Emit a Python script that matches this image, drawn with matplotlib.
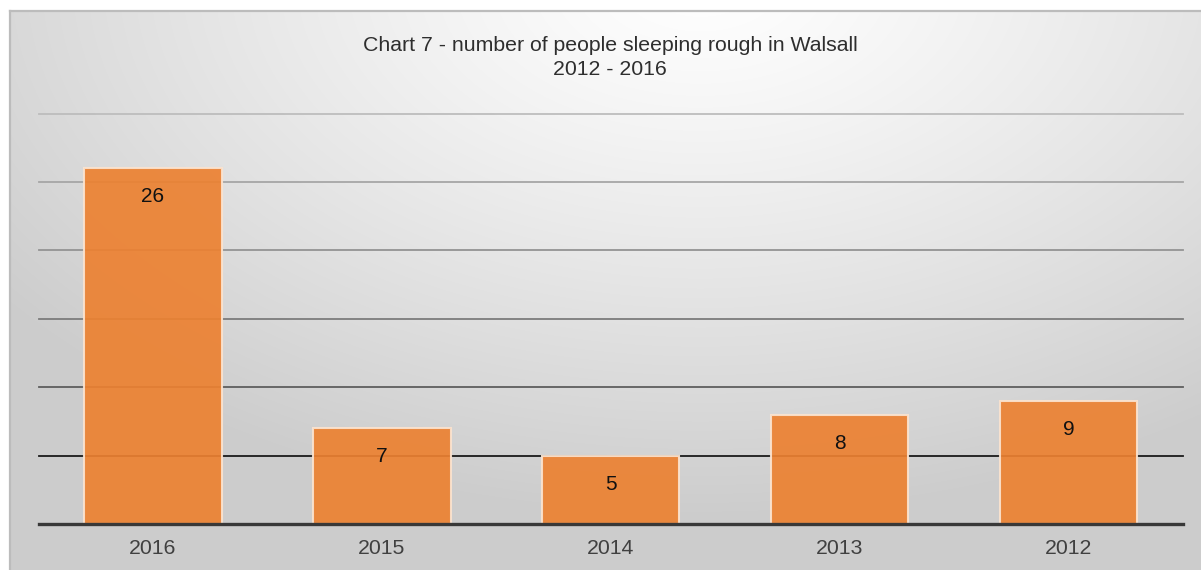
import numpy as np
import matplotlib.pyplot as plt

years = ['2016', '2015', '2014', '2013', '2012']
rough_sleepers = [26, 7, 5, 8, 9]
grid_levels = [5, 10, 15, 20, 25, 30]
grid_colours = ['#1a1a1a', '#5e5e5e', '#7c7c7c', '#939393', '#a6a6a6', '#bdbdbd']

W, H = 1201, 570
fig = plt.figure(figsize=(W / 100, H / 100), dpi=100)
fig.patch.set_facecolor('white')

# soft radial backdrop behind the chart area
bg = fig.add_axes([0, 0, 1, 1], zorder=-1)
yy, xx = np.mgrid[0:H, 0:W]
r = np.sqrt(((xx - 700) / 880.0) ** 2 + ((yy + 20) / 540.0) ** 2)
shade = 1.0 - 0.2 * np.clip(r, 0, 1) ** 1.2
img = np.dstack([shade, shade, shade])
img[:10, :] = 1.0
img[:, :9] = 1.0
bg.imshow(img, extent=[0, W, H, 0], aspect='auto', interpolation='bilinear')
bg.plot([9.5, 9.5], [H, 10.5], color='#bcbcbc', lw=1.6)
bg.plot([9.5, W], [10.5, 10.5], color='#bcbcbc', lw=1.6)
bg.set_xlim(0, W)
bg.set_ylim(H, 0)
bg.axis('off')

ax = fig.add_axes([38.5 / W, 1 - 524 / H, (1183 - 38.5) / W, (524 - 113.5) / H])
ax.set_facecolor('none')
x = np.arange(len(years))

for lvl, c in zip(grid_levels, grid_colours):
    ax.axhline(lvl, color=c, lw=1.3, zorder=1, clip_on=False)

bars = ax.bar(x, rough_sleepers, width=0.6, color='#ec8131', alpha=0.92,
              edgecolor='#fbe3cf', linewidth=1.5, zorder=2)
for b, v in zip(bars, rough_sleepers):
    ax.annotate(str(v), (b.get_x() + b.get_width() / 2, v), xytext=(0, -20.5),
                textcoords='offset points', ha='center', va='center',
                fontsize=15, color='#111111', family='Liberation Sans', zorder=3)

ax.axhline(0, color='#383838', lw=2.4, zorder=3, clip_on=False)
ax.set_xlim(-0.5, len(years) - 0.5)
ax.set_ylim(0, 30)
ax.set_xticks(x)
ax.set_xticklabels(years, fontsize=15.3, color='#404040', family='Liberation Sans')
ax.tick_params(axis='x', length=0, pad=11)
ax.set_yticks([])
for s in ax.spines.values():
    s.set_visible(False)

fig.text(610 / W, 1 - 57.5 / H, 'Chart 7 - number of people sleeping rough in Walsall\n2012 - 2016',
         ha='center', va='center', fontsize=15.3, color='#2e2e2e',
         family='Liberation Sans', linespacing=1.28)

fig.savefig('out.png', dpi=100)
